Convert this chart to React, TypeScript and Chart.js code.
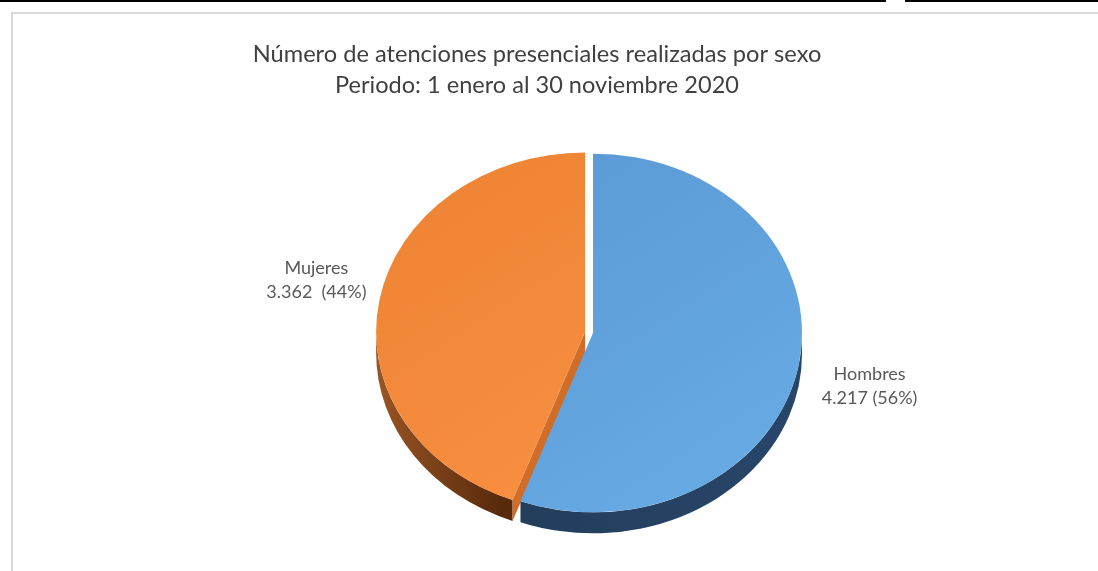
import React, { useEffect, useRef } from 'react';
import { Chart, registerables } from 'chart.js';

Chart.register(...registerables);

const TITLE_LINES = [
  'Número de atenciones presenciales realizadas por sexo',
  'Periodo: 1 enero al 30 noviembre 2020',
];
const CATEGORIES = ['Hombres', 'Mujeres'];
const VALUES = [4217, 3362];
const VALUE_PCT_GAPS = [' ', '  '];
const EXPLODE = [0, 8];

const TOP_COLORS = [
  ['#5896D2', '#67AAE4'],
  ['#EC8232', '#FB9244'],
];
const SIDE_COLORS = [
  ['#203A54', '#28466A'],
  ['#9A5524', '#582A0C'],
];
const CUT_COLORS = ['#2A4866', '#CF6D29'];

const W = 1098;
const H = 571;
const SQUASH = 0.858;
const DEPTH = 21;
const RADIUS = 209;
const CENTER_X = 593;
const CENTER_Y = 333;
const LABEL_RX = 281;
const LABEL_RY = 300;
const LABEL_DY = 0;
const FONT_FAMILY = 'Lato, "Open Sans", sans-serif';
const TITLE_WIDTHS = [569, 404];
const TITLE_CENTER_X = 537;
const TITLE_BASELINES = [62, 93];

function fmtThousands(v: number): string {
  return String(Math.round(v)).replace(/\B(?=(\d{3})+(?!\d))/g, '.');
}

function topFill(c: any) {
  const i = c.dataIndex ?? 0;
  const chart = c.chart;
  const area = chart.chartArea;
  if (!area) return TOP_COLORS[i][0];
  const cx = (area.left + area.right) / 2;
  const cy = (area.top + area.bottom) / 2;
  const g = chart.ctx.createLinearGradient(cx - RADIUS, cy - RADIUS, cx + RADIUS * 0.5, cy + RADIUS);
  g.addColorStop(0, TOP_COLORS[i][0]);
  g.addColorStop(1, TOP_COLORS[i][1]);
  return g;
}

const pie3dPlugin = {
  id: 'pie3d',
  afterUpdate(chart: any) {
    const arcs = chart.getDatasetMeta(0).data as any[];
    arcs.forEach((a, i) => {
      const off = EXPLODE[i] || 0;
      if (!off) return;
      const mid = (a.startAngle + a.endAngle) / 2;
      a.x += Math.cos(mid) * off;
      a.y += Math.sin(mid) * off;
    });
  },
  beforeDatasetsDraw(chart: any) {
    const ctx: CanvasRenderingContext2D = chart.ctx;
    const area = chart.chartArea;
    const cx = (area.left + area.right) / 2;
    const cy = (area.top + area.bottom) / 2;
    const arcs = chart.getDatasetMeta(0).data as any[];
    ctx.save();
    ctx.translate(cx, cy);
    ctx.scale(1, SQUASH);
    ctx.translate(-cx, -cy);
    const d = DEPTH / SQUASH;
    const order = arcs.map((_, i) => i).sort((p, q) => (EXPLODE[q] || 0) - (EXPLODE[p] || 0));
    order.forEach((i) => {
      const a = arcs[i];
      const r = a.outerRadius;
      const s = Math.max(a.startAngle, 0);
      const e = Math.min(a.endAngle, Math.PI);
      if (e > s) {
        const g = ctx.createLinearGradient(a.x - r, 0, a.x + r, 0);
        if (i === 1) {
          g.addColorStop(0, SIDE_COLORS[i][0]);
          g.addColorStop(0.3, SIDE_COLORS[i][1]);
          g.addColorStop(1, SIDE_COLORS[i][1]);
        } else {
          g.addColorStop(0, SIDE_COLORS[i][0]);
          g.addColorStop(1, SIDE_COLORS[i][1]);
        }
        ctx.fillStyle = g;
        ctx.beginPath();
        ctx.arc(a.x, a.y, r, s, e);
        ctx.arc(a.x, a.y + d, r, e, s, true);
        ctx.closePath();
        ctx.fill();
      }
      const faces: number[] = [];
      if (Math.cos(a.startAngle) < -0.01) faces.push(a.startAngle);
      if (Math.cos(a.endAngle) > 0.01) faces.push(a.endAngle);
      faces.forEach((ang) => {
        const ex = a.x + Math.cos(ang) * r;
        const ey = a.y + Math.sin(ang) * r;
        ctx.fillStyle = CUT_COLORS[i];
        ctx.beginPath();
        ctx.moveTo(a.x, a.y);
        ctx.lineTo(ex, ey);
        ctx.lineTo(ex, ey + d);
        ctx.lineTo(a.x, a.y + d);
        ctx.closePath();
        ctx.fill();
      });
    });
  },
  afterDatasetsDraw(chart: any) {
    const ctx: CanvasRenderingContext2D = chart.ctx;
    ctx.restore();
    const area = chart.chartArea;
    const cx = (area.left + area.right) / 2;
    const cy = (area.top + area.bottom) / 2;
    const arcs = chart.getDatasetMeta(0).data as any[];
    const total = VALUES.reduce((p, q) => p + q, 0);
    ctx.save();
    ctx.fillStyle = '#595959';
    ctx.font = `18px ${FONT_FAMILY}`;
    ctx.textAlign = 'center';
    ctx.textBaseline = 'middle';
    arcs.forEach((a, i) => {
      const mid = (a.startAngle + a.endAngle) / 2;
      const x = cx + Math.cos(mid) * LABEL_RX;
      const y = cy + LABEL_DY + Math.sin(mid) * LABEL_RY;
      const pct = Math.round((VALUES[i] / total) * 100);
      ctx.fillText(CATEGORIES[i], x, y - 12);
      ctx.fillText(`${fmtThousands(VALUES[i])}${VALUE_PCT_GAPS[i]}(${pct}%)`, x, y + 12);
    });
    ctx.fillStyle = '#404040';
    ctx.textBaseline = 'alphabetic';
    TITLE_LINES.forEach((line, k) => {
      ctx.font = `22px ${FONT_FAMILY}`;
      const w = ctx.measureText(line).width;
      const size = (22 * TITLE_WIDTHS[k]) / w;
      ctx.font = `${size.toFixed(2)}px ${FONT_FAMILY}`;
      ctx.fillText(line, TITLE_CENTER_X, TITLE_BASELINES[k]);
    });
    ctx.restore();
  },
};

export default function App() {
  const ref = useRef<HTMLCanvasElement>(null);
  useEffect(() => {
    const canvas = ref.current;
    if (!canvas) return;
    const chart = new Chart(canvas, {
      type: 'pie',
      data: {
        labels: CATEGORIES,
        datasets: [
          {
            data: VALUES,
            backgroundColor: topFill as any,
            borderWidth: 0,
            radius: RADIUS,
            clip: false,
          } as any,
        ],
      },
      options: {
        responsive: false,
        animation: false,
        events: [],
        layout: {
          padding: { left: 2 * CENTER_X - W, right: 0, top: 2 * CENTER_Y - H, bottom: 0 },
        },
        plugins: {
          legend: { display: false },
          title: { display: false },
          tooltip: { enabled: false },
        },
      },
      plugins: [pie3dPlugin as any],
    });
    return () => chart.destroy();
  }, []);

  return (
    <div
      style={{
        position: 'fixed',
        left: 0,
        top: 0,
        width: W,
        height: H,
        background: '#ffffff',
        overflow: 'hidden',
      }}
    >
      <div style={{ position: 'absolute', left: 0, top: 0, width: 886, height: 2, background: '#000' }} />
      <div style={{ position: 'absolute', left: 905, top: 0, width: W - 905, height: 2, background: '#000' }} />
      <div
        style={{
          position: 'absolute',
          left: 11,
          top: 12,
          width: W,
          height: H,
          borderLeft: '2px solid #d9d9d9',
          borderTop: '2px solid #d9d9d9',
        }}
      />
      <canvas ref={ref} width={W} height={H} style={{ position: 'absolute', left: 0, top: 0 }} />
    </div>
  );
}
